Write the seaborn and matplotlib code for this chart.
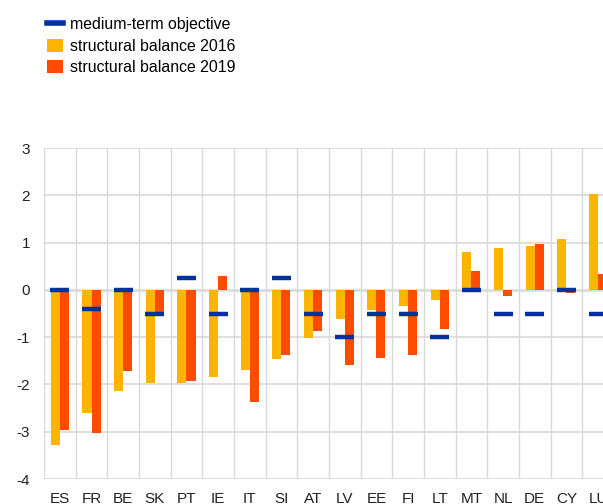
import pandas as pd
import matplotlib.pyplot as plt
import seaborn as sns
from matplotlib.lines import Line2D
from matplotlib.patches import Patch

# Data (% of potential GDP)
countries = ["ES", "FR", "BE", "SK", "PT", "IE", "IT", "SI", "AT", "LV",
             "EE", "FI", "LT", "MT", "NL", "DE", "CY", "LU"]
sb_2016 = [-3.28, -2.60, -2.13, -1.96, -1.96, -1.85, -1.69, -1.46, -1.02, -0.62,
           -0.42, -0.35, -0.22, 0.80, 0.89, 0.93, 1.08, 2.02]
sb_2019 = [-2.96, -3.03, -1.71, -0.56, -1.92, 0.30, -2.37, -1.38, -0.88, -1.59,
           -1.45, -1.38, -0.82, 0.39, -0.14, 0.97, -0.07, 0.34]
mto = [0.0, -0.4, 0.0, -0.5, 0.25, -0.5, 0.0, 0.25, -0.5, -1.0,
       -0.5, -0.5, -1.0, 0.0, -0.5, -0.5, 0.0, -0.5]

yellow = "#FFB400"
red = "#FF4B00"
blue = "#003299"

df = pd.DataFrame({
    "country": countries * 2,
    "value": sb_2016 + sb_2019,
    "series": ["structural balance 2016"] * len(countries) + ["structural balance 2019"] * len(countries),
})

plt.rcParams["axes.unicode_minus"] = False
plt.rcParams["font.family"] = ["Liberation Sans", "DejaVu Sans"]

fig = plt.figure(figsize=(6.03, 5.04), dpi=100)
# the chart runs past the right edge, as in the source image
ax = fig.add_axes([0.073, 0.0496, 0.945, 0.6567])

sns.barplot(data=df, x="country", y="value", hue="series", order=countries,
            palette=[yellow, red], width=0.57, saturation=1, ax=ax, legend=False)

# medium-term objective dashes
xs = range(len(countries))
ax.hlines(mto, [x - 0.3 for x in xs], [x + 0.3 for x in xs], color=blue, linewidth=3.2, zorder=4)

ax.set_ylim(-4, 3)
ax.set_xlim(-0.5, len(countries) - 0.5)
ax.set_yticks(range(-4, 4))
ax.set_xlabel("")
ax.set_ylabel("")

# grid
ax.set_axisbelow(True)
for y in range(-4, 4):
    ax.axhline(y, color="#d9d9d9", linewidth=1.2 if y != 0 else 1.8, zorder=0)
for x in range(len(countries) + 1):
    ax.axvline(x - 0.5, color="#d9d9d9", linewidth=1.0, zorder=0)
for s in ax.spines.values():
    s.set_visible(False)
ax.tick_params(axis="both", length=0, labelsize=11, colors="#222222")
ax.tick_params(axis="y", pad=10)
ax.tick_params(axis="x", pad=9)

handles = [
    Line2D([0], [0], color=blue, linewidth=4),
    Patch(facecolor=yellow),
    Patch(facecolor=red),
]
labels = ["medium-term objective", "structural balance 2016", "structural balance 2019"]
fig.legend(handles, labels, loc="upper left", bbox_to_anchor=(0.068, 0.978),
           frameon=False, fontsize=11.4, handlelength=1.0, handleheight=0.87,
           handletextpad=0.42, labelspacing=0.4, borderaxespad=0)

fig.savefig("out.png", dpi=100)
